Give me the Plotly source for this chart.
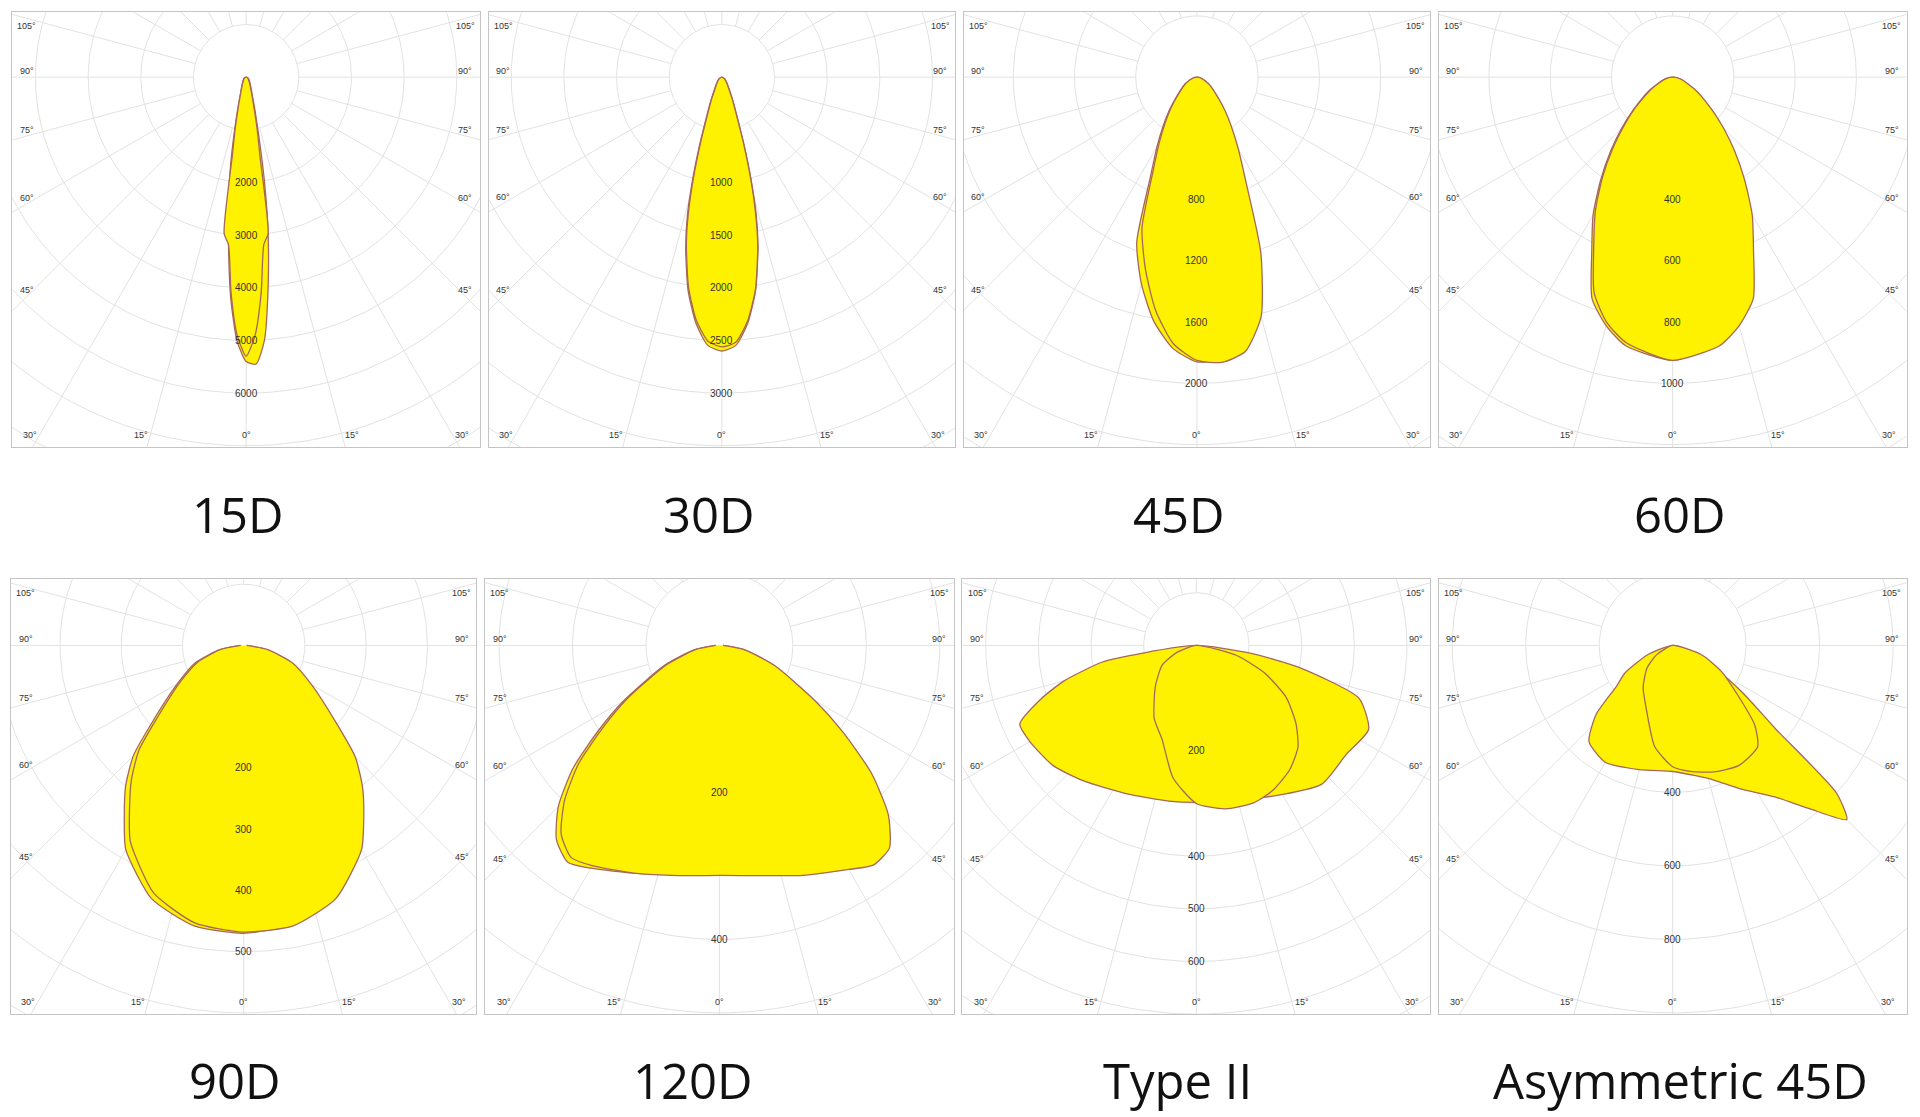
import numpy as np
import plotly.graph_objects as go

# ---------------- data ----------------
TITLES = ["15D", "30D", "45D", "60D", "90D", "120D", "Type II", "Asymmetric 45D"]
RING_STEP = [1000, 500, 400, 200, 100, 100, 100, 200]
RING_LABELS = [[2000, 3000, 4000, 5000, 6000], [1000, 1500, 2000, 2500, 3000],
               [800, 1200, 1600, 2000], [400, 600, 800, 1000],
               [200, 300, 400, 500], [200, 400], [200, 400, 500, 600], [400, 600, 800]]
SIDE_ANGLES = [105, 90, 75, 60, 45]
BOTTOM_ANGLES = [-30, -15, 0, 15, 30]

ang_15 = [-90, -60, -30, -20, -15, -12, -10, -8, -6, -4, -2, 0, 2, 4, 6, 8, 10, 12, 15, 20, 30, 60, 90]
i15_a = [0, 50, 150, 300, 600, 1100, 1700, 2400, 3200, 4200, 5000, 5400, 5450, 5000, 4000, 3000, 2000, 1200, 650, 320, 160, 50, 0]
i15_b = [0, 40, 130, 280, 550, 1000, 1500, 3000, 3200, 4100, 4900, 5300, 4900, 4100, 3200, 3000, 1500, 1000, 550, 280, 130, 40, 0]

ang_30 = [-90, -60, -45, -30, -25, -20, -18, -16, -14, -12, -9, -6, -3, 0, 3, 6, 9, 12, 14, 16, 18, 20, 25, 30, 45, 60, 90]
i30_a = [0, 30, 60, 150, 250, 480, 700, 1000, 1350, 1650, 2050, 2350, 2550, 2600, 2550, 2350, 2050, 1650, 1350, 1000, 700, 480, 250, 150, 60, 30, 0]
i30_b = [0, 25, 55, 130, 230, 440, 650, 950, 1300, 1620, 2020, 2320, 2510, 2560, 2520, 2330, 2040, 1640, 1320, 980, 680, 460, 240, 140, 55, 25, 0]

ang_45 = [-90, -75, -60, -45, -40, -35, -30, -25, -20, -15, -10, -5, 0, 5, 10, 15, 20, 25, 30, 35, 40, 45, 60, 75, 90]
i45_a = [0, 30, 90, 200, 280, 380, 520, 720, 1150, 1400, 1620, 1780, 1860, 1850, 1760, 1560, 1120, 700, 500, 360, 270, 195, 85, 28, 0]
i45_b = [0, 28, 85, 190, 265, 360, 490, 680, 1050, 1300, 1550, 1750, 1850, 1870, 1820, 1620, 1220, 760, 540, 390, 285, 205, 90, 30, 0]

ang_60 = [-90, -75, -60, -50, -45, -40, -35, -30, -25, -20, -15, -10, 0, 10, 15, 20, 25, 30, 35, 40, 45, 50, 60, 75, 90]
i60_a = [0, 30, 90, 170, 235, 315, 410, 520, 625, 770, 840, 890, 925, 880, 830, 750, 610, 505, 400, 305, 225, 165, 85, 28, 0]
i60_b = [0, 28, 85, 165, 225, 305, 400, 505, 610, 750, 830, 880, 925, 890, 840, 770, 625, 520, 410, 315, 235, 170, 90, 30, 0]

ang_90 = [-90, -80, -70, -60, -50, -45, -40, -35, -30, -20, -10, 0, 10, 20, 30, 35, 40, 45, 50, 60, 70, 80, 90]
i90_a = [5, 40, 85, 125, 195, 255, 300, 340, 385, 440, 465, 470, 462, 435, 378, 333, 293, 248, 190, 122, 83, 38, 5]
i90_b = [5, 38, 80, 120, 185, 242, 285, 325, 370, 430, 460, 468, 465, 440, 385, 342, 302, 258, 198, 128, 86, 40, 5]

ang_120 = [-90, -80, -70, -60, -55, -50, -45, -40, -35, -30, -20, -10, 0, 10, 20, 30, 35, 40, 45, 50, 55, 60, 70, 80, 90]
i120_a = [5, 35, 80, 150, 200, 260, 310, 345, 360, 350, 330, 315, 310, 315, 330, 348, 355, 335, 300, 250, 195, 148, 78, 35, 5]
i120_b = [5, 33, 76, 145, 192, 250, 298, 335, 352, 346, 330, 318, 313, 318, 333, 352, 365, 360, 325, 270, 205, 150, 80, 35, 5]

ang_t2_a = [-90, -82, -80, -75, -71, -66, -60, -50, -40, -25, -10, 0, 10, 27, 42, 54, 64, 72, 78, 82, 90]
it2_a = [0, 100, 181, 260, 312, 367, 365, 355, 335, 311, 300, 298, 300, 321, 355, 352, 364, 325, 198, 101, 0]
ang_t2_b = [-90, -70, -60, -45, -30, -20, -10, 0, 10, 20, 28, 37, 45, 52, 60, 68, 76, 90]
it2_b = [0, 40, 75, 110, 160, 190, 255, 300, 315, 318, 311, 295, 273, 240, 197, 140, 79, 0]

ang_as_a = [-90, -70, -60, -54, -48, -41, -30, -15, 0, 10, 17, 25, 34, 40, 45, 48, 51, 56, 62, 75, 90]
ias_a = [0, 70, 150, 189, 280, 347, 367, 350, 343, 360, 383, 430, 497, 580, 670, 600, 360, 230, 128, 40, 0]
ang_as_b = [-90, -60, -49, -35, -22, -10, 0, 8, 18, 29, 40, 46, 52, 62, 72, 90]
ias_b = [0, 50, 92, 140, 190, 280, 330, 346, 362, 373, 360, 310, 230, 150, 84, 0]

CURVES = [
    [(ang_15, i15_a), (ang_15, i15_b)],
    [(ang_30, i30_a), (ang_30, i30_b)],
    [(ang_45, i45_a), (ang_45, i45_b)],
    [(ang_60, i60_a), (ang_60, i60_b)],
    [(ang_90, i90_a), (ang_90, i90_b)],
    [(ang_120, i120_a), (ang_120, i120_b)],
    [(ang_t2_a, it2_a), (ang_t2_b, it2_b)],
    [(ang_as_a, ias_a), (ang_as_b, ias_b)],
]

# ---------------- layout geometry (reference px, 1568x912 basis) ----------------
W0, H0 = 1568.0, 912.0
OFF = 8 * W0 / 1920.0   # page body margin compensation
BOXES = [(10, 392, 10, 365), (399, 780, 10, 365), (787, 1168, 10, 365), (1175, 1557, 10, 365),
         (9, 389, 473, 828), (396, 779, 473, 828), (786, 1168, 473, 828), (1175, 1557, 473, 828)]
ORIGIN_Y = [63, 63, 63, 63, 527, 527, 527, 527]
RING_PX = [43, 43, 50, 50, 50, 60, 43, 60]
TITLE_X = [194, 579, 963, 1372, 192, 566, 962, 1372]
TITLE_Y = [420, 420, 420, 420, 882, 882, 882, 882]

FILL = "#fff200"
EDGE = "#a5675a"
GRID = "#e2e2e2"
LBL = "#333333"


def px(v):
    return (v - OFF) / W0


def py(v):
    return 1 - (v - OFF) / H0


fig = go.Figure()
annotations = []
layout = {}

for i in range(8):
    n = i + 1
    xa, ya = f"x{n}", f"y{n}"
    x0, x1, y0, y1 = BOXES[i]
    ox = (x0 + x1) / 2.0
    oy = ORIGIN_Y[i]
    step = RING_STEP[i]
    u = step / RING_PX[i]
    xr = [(x0 - ox) * u, (x1 - ox) * u]
    yr = [-(y1 - oy) * u, (oy - y0) * u]
    ax = dict(visible=True, showgrid=False, zeroline=False, showticklabels=False, ticks="",
              showline=True, mirror=True, linecolor="#c4c4c4", linewidth=1, fixedrange=True)
    layout[f"xaxis{n if n > 1 else ''}"] = dict(ax, domain=[px(x0), px(x1)], range=xr, anchor=ya)
    layout[f"yaxis{n if n > 1 else ''}"] = dict(ax, domain=[py(y1), py(y0)], range=yr, anchor=xa)

    t = np.linspace(0, 2 * np.pi, 241)
    gx, gy = [], []
    for k in range(1, 26):
        r = k * step
        gx += list(r * np.cos(t)) + [None]
        gy += list(r * np.sin(t)) + [None]
    for a in range(0, 360, 15):
        ar = np.radians(a)
        gx += [step * np.sin(ar), 30 * step * np.sin(ar), None]
        gy += [-step * np.cos(ar), -30 * step * np.cos(ar), None]
    fig.add_trace(go.Scatter(x=gx, y=gy, mode="lines", line=dict(color=GRID, width=1),
                             hoverinfo="skip", showlegend=False, xaxis=xa, yaxis=ya))

    for angs, vals in CURVES[i]:
        th = np.radians(np.array(angs, dtype=float))
        v = np.array(vals, dtype=float)
        fig.add_trace(go.Scatter(x=v * np.sin(th), y=-v * np.cos(th), mode="lines",
                                 fill="toself", fillcolor=FILL,
                                 line=dict(color=EDGE, width=1.3, shape="spline", smoothing=0.6),
                                 hoverinfo="skip", showlegend=False, xaxis=xa, yaxis=ya))

    for val in RING_LABELS[i]:
        annotations.append(dict(x=0, y=-val, xref=xa, yref=ya, text=str(val), showarrow=False,
                                font=dict(size=10, color=LBL, family="Liberation Sans")))
    for side in (-1, 1):
        xe = (x0 - ox + 12) * u if side < 0 else (x1 - ox - 12) * u
        for a in SIDE_ANGLES:
            ar = np.radians(a)
            yl = -abs(xe) * np.cos(ar) / np.sin(ar) + 5 * u
            yl = min(yl, (oy - y0 - 11) * u)
            annotations.append(dict(x=xe, y=yl, xref=xa, yref=ya, text=f"{a}°", showarrow=False,
                                    font=dict(size=9, color=LBL, family="Liberation Sans")))
    depth = (y1 - oy - 10)
    for a in BOTTOM_ANGLES:
        xl = depth * np.tan(np.radians(a))
        xl = (xl + np.sign(a) * 8) * u
        annotations.append(dict(x=xl, y=-depth * u, xref=xa, yref=ya, text=f"{abs(a)}°", showarrow=False,
                                font=dict(size=9, color=LBL, family="Liberation Sans")))
    annotations.append(dict(x=px(TITLE_X[i]), y=py(TITLE_Y[i]), xref="paper", yref="paper",
                            text=TITLES[i], showarrow=False, xanchor="center", yanchor="middle",
                            font=dict(size=49, color="#111111", family="Open Sans")))

fig.update_layout(**layout)
fig.update_layout(width=1920, height=1117, margin=dict(l=0, r=0, t=0, b=0),
                  paper_bgcolor="white", plot_bgcolor="white", annotations=annotations,
                  showlegend=False)
fig.write_html("out.html")
